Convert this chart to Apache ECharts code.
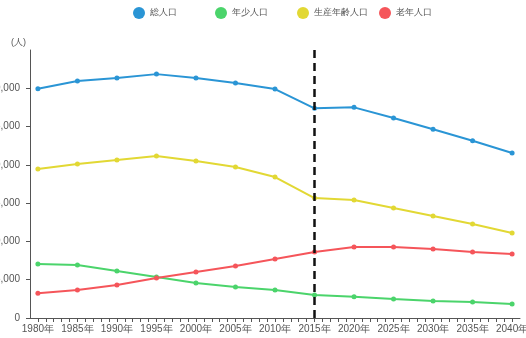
<!DOCTYPE html>
<html>
<head>
<meta charset="utf-8">
<script src="https://cdn.jsdelivr.net/npm/echarts@6/dist/echarts.min.js"></script>
<style>
  html, body { margin: 0; padding: 0; background: #fff; }
  #chart { width: 526px; height: 338px; }
</style>
</head>
<body>
<div id="chart"></div>
<script>
// 年次
var years = [1980, 1985, 1990, 1995, 2000, 2005, 2010, 2015, 2020, 2025, 2030, 2035, 2040];
// 人口（人）
var total   = [29950, 30940, 31330, 31850, 31330, 30680, 29900, 27380, 27510, 26110, 24640, 23150, 21540];
var young   = [7050, 6920, 6140, 5350, 4570, 4050, 3660, 3000, 2780, 2480, 2220, 2090, 1830];
var working = [19450, 20100, 20630, 21150, 20500, 19710, 18410, 15670, 15400, 14360, 13320, 12270, 11100];
var elderly = [3220, 3660, 4310, 5220, 6000, 6790, 7700, 8620, 9270, 9270, 9010, 8620, 8360];

var names  = ['総人口', '年少人口', '生産年齢人口', '老年人口'];
var colors = ['#2a95d5', '#4bd46b', '#e2d834', '#f5555a'];
var lists  = [total, young, working, elderly];

var myChart = echarts.init(document.getElementById('chart'));

function pairs(arr) {
    return years.map(function(y, i) { return [y, arr[i]]; });
}

var series = lists.map(function(arr, i) {
    var s = {
        name: names[i],
        type: 'line',
        data: pairs(arr),
        symbol: 'circle',
        symbolSize: 5,
        lineStyle: { width: 2, color: colors[i] },
        itemStyle: { color: colors[i] }
    };
    //2015年の点線
    if (i === 0) {
        s.markLine = {
            silent: true,
            symbol: 'none',
            label: { show: false },
            lineStyle: { color: '#111', type: [8, 5], width: 2.5 },
            data: [{ xAxis: 2015 }]
        };
    }
    return s;
});

//凡例は等間隔に並べる
var legends = names.map(function(n, i) {
    return {
        top: 2,
        left: 128 + i * 82,
        icon: 'circle',
        itemWidth: 12,
        itemHeight: 12,
        textStyle: { color: '#555', fontSize: 9 },
        data: [n]
    };
});

myChart.setOption({
    animation: false,
    color: colors,
    legend: legends,
    grid: { left: 30, right: 6, top: 50, bottom: 20, containLabel: false, outerBoundsMode: 'none' },
    xAxis: {
        type: 'value',
        min: 1979,
        max: 2041,
        interval: 1,
        splitLine: { show: false },
        axisLine: { lineStyle: { color: '#555' } },
        axisTick: { length: 4, lineStyle: { color: '#555' } },
        axisLabel: {
            color: '#555',
            fontSize: 10,
            margin: 6,
            showMinLabel: false,
            showMaxLabel: false,
            formatter: function(v) { return v % 5 === 0 ? v + '年' : ''; }
        }
    },
    yAxis: {
        type: 'value',
        min: 0,
        max: 35000,
        interval: 5000,
        name: '(人)',
        nameGap: 3,
        nameTextStyle: { color: '#555', fontSize: 9, align: 'right', padding: [0, 4, 0, 0] },
        splitLine: { show: false },
        axisLine: { show: true, lineStyle: { color: '#555' } },
        axisTick: { show: true, length: 4, lineStyle: { color: '#555' } },
        axisLabel: {
            color: '#555',
            fontSize: 10,
            margin: 10,
            showMaxLabel: false,
            formatter: function(v) { return v.toLocaleString('en-US'); }
        }
    },
    series: series
});
</script>
</body>
</html>
